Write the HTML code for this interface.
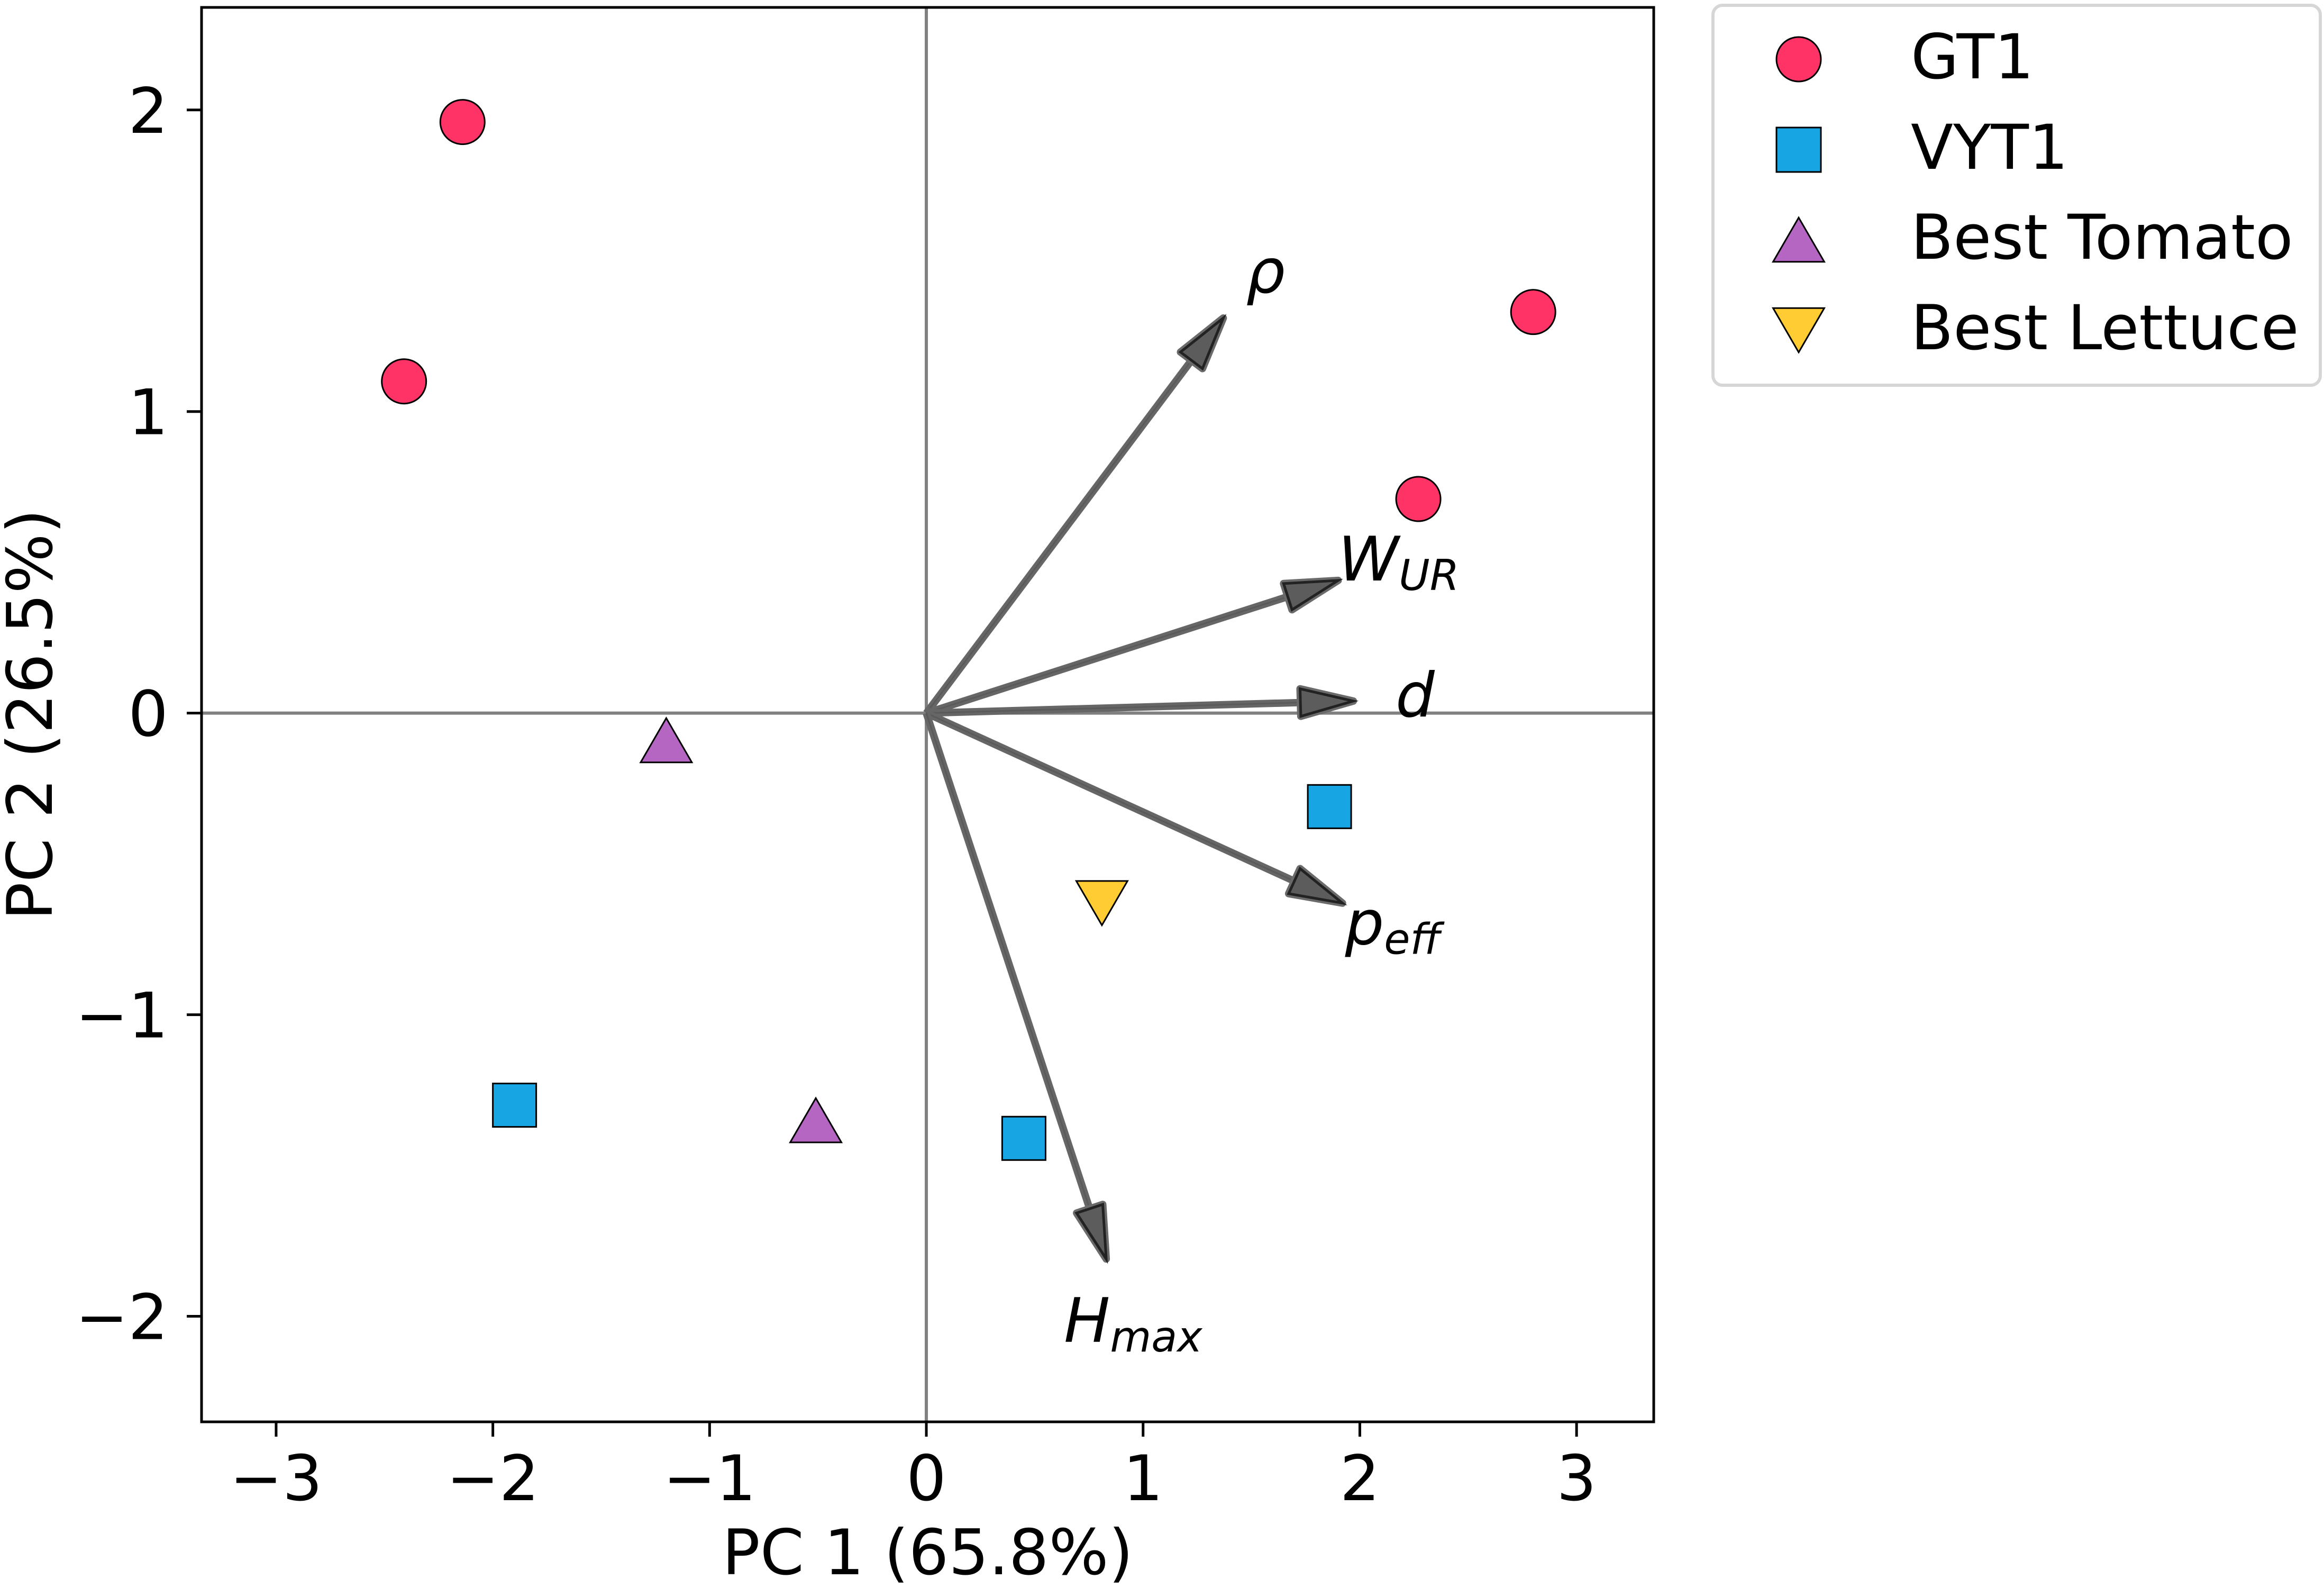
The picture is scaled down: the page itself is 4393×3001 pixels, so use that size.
<!DOCTYPE html>
<html><head><meta charset="utf-8"><style>
html,body{margin:0;padding:0;background:#fff}
svg{display:block}
text{font-family:"DejaVu Sans","Liberation Sans",sans-serif;fill:#000}
</style></head><body>
<svg id="chart" width="4393" height="3001" viewBox="0 0 4393 3001" xmlns="http://www.w3.org/2000/svg">
<g id="plot"></g>
</svg>
<script>
const xTicks=[-3,-2,-1,0,1,2,3];
const yTicks=[-2,-1,0,1,2];
const gt1X=[-2.14,-2.41,2.80,2.27];
const gt1Y=[1.96,1.10,1.33,0.71];
const vyt1X=[1.86,-1.90,0.45];
const vyt1Y=[-0.31,-1.30,-1.41];
const tomatoX=[-1.20,-0.51];
const tomatoY=[-0.09,-1.35];
const lettuceX=[0.81];
const lettuceY=[-0.63];
const loadNames=["rho","wur","d","peff","hmax"];
const loadX=[1.37,1.90,1.97,1.92,0.83];
const loadY=[1.31,0.44,0.04,-0.63,-1.81];

const L=381,R=3126,T=14,B=2687;
const X0=-3.344,X1=3.356,Y0=-2.35,Y1=2.34;
const sx=v=>L+(v-X0)/(X1-X0)*(R-L);
const sy=v=>B-(v-Y0)/(Y1-Y0)*(B-T);
const NS="http://www.w3.org/2000/svg";
const svg=document.getElementById('chart');
const g=document.getElementById('plot');
function mk(tag,attrs,parent){const e=document.createElementNS(NS,tag);for(const k in attrs)e.setAttribute(k,attrs[k]);(parent||g).appendChild(e);return e;}

let e=mk('line',{x1:L,x2:R,y1:sy(0),y2:sy(0),stroke:'#808080','stroke-width':6});


e=mk('line',{x1:sx(0),x2:sx(0),y1:T,y2:B,stroke:'#808080','stroke-width':6});



function circle(cx,cy,r,col,name,parent){const c=mk('circle',{cx:cx,cy:cy,r:r,fill:col,stroke:'#000','stroke-width':3},parent);}
function square(cx,cy,s,col,name,parent){const c=mk('rect',{x:cx-s/2,y:cy-s/2,width:s,height:s,fill:col,stroke:'#000','stroke-width':3},parent);}
function tri(cx,cy,s,up,col,name,parent){const h=s*0.95,w=s*0.55;const p=up?`${cx},${cy-h/2} ${cx+w},${cy+h/2} ${cx-w},${cy+h/2}`:`${cx},${cy+h/2} ${cx+w},${cy-h/2} ${cx-w},${cy-h/2}`;const c=mk('polygon',{points:p,fill:col,stroke:'#000','stroke-width':3},parent);}

const RED='#ff3366',BLUE='#17a6e3',PURP='#b565c2',YEL='#ffcc33';
gt1X.forEach((x,i)=>circle(sx(x),sy(gt1Y[i]),42,RED,'gt1-point'));
vyt1X.forEach((x,i)=>square(sx(x),sy(vyt1Y[i]),82,BLUE,'vyt1-point'));
tomatoX.forEach((x,i)=>tri(sx(x),sy(tomatoY[i]),88,true,PURP,'best-tomato-point'));
lettuceX.forEach((x,i)=>tri(sx(x),sy(lettuceY[i]),88,false,YEL,'best-lettuce-point'));

const labelDefs={rho:['ρ',''],wur:['W','UR'],d:['d',''],peff:['p','eff'],hmax:['H','max']};
const labelOff={rho:[43,-48],wur:[0,0],d:[80,29],peff:[5,78],hmax:[-80,157]};
loadNames.forEach((n,i)=>{
  const x0=sx(0),y0=sy(0),x1=sx(loadX[i]),y1=sy(loadY[i]);
  const dx=x1-x0,dy=y1-y0,len=Math.hypot(dx,dy),ux=dx/len,uy=dy/len;
  const hl=100,hw=26;
  const bx=x1-ux*hl,by=y1-uy*hl;
  const grp=mk('g',{});
  
  
  mk('line',{x1:x0,y1:y0,x2:bx+ux*4,y2:by+uy*4,stroke:'#666','stroke-width':14},grp);
  mk('line',{x1:x0,y1:y0,x2:bx,y2:by,stroke:'#5a5a5a','stroke-width':3},grp);
  const pts=`${x1},${y1} ${bx-uy*hw},${by+ux*hw} ${bx+uy*hw},${by-ux*hw}`;
  mk('polygon',{points:pts,fill:'#5c5c5c',stroke:'#6a6a6a','stroke-width':14,'stroke-linejoin':'round'},grp);
  mk('polygon',{points:pts,fill:'#5c5c5c',stroke:'#222','stroke-width':5,'stroke-linejoin':'miter'},grp);
  const [m,s]=labelDefs[n];const o=labelOff[n];
  const t=mk('text',{x:x1+o[0],y:y1+o[1],'font-size':116,'font-style':'italic','text-anchor':'start'});
  
  
  t.appendChild(document.createTextNode(m));
  if(s){const ts=document.createElementNS(NS,'tspan');ts.setAttribute('font-size',80);ts.setAttribute('dy',18);ts.textContent=s;t.appendChild(ts);}
});

e=mk('rect',{x:L,y:T,width:R-L,height:B-T,fill:'none',stroke:'#000','stroke-width':5});



xTicks.forEach(v=>{
  const x=sx(v);
  let l=mk('line',{x1:x,x2:x,y1:B,y2:B+28,stroke:'#000','stroke-width':5});
  
  
  let t=mk('text',{x:x,y:2835,'font-size':119,'text-anchor':'middle'});
  
  
  t.textContent=(v<0?'−':'')+Math.abs(v);
});
yTicks.forEach(v=>{
  const y=sy(v);
  let l=mk('line',{x1:L-28,x2:L,y1:y,y2:y,stroke:'#000','stroke-width':5});
  
  
  let t=mk('text',{x:318,y:y+43,'font-size':119,'text-anchor':'end'});
  
  
  t.textContent=(v<0?'−':'')+Math.abs(v);
});
e=mk('text',{x:(L+R)/2,y:2975,'font-size':119,'text-anchor':'middle'});


e.textContent='PC 1 (65.8%)';
e=mk('text',{x:0,y:0,'font-size':119,'text-anchor':'middle',transform:`translate(98,${(T+B)/2}) rotate(-90)`});


e.textContent='PC 2 (26.5%)';

const lg=mk('g',{},svg);


mk('rect',{x:3238,y:10,width:1148,height:718,rx:18,fill:'#fff',stroke:'#d6d6d6','stroke-width':6},lg);
const legNames=['GT1','VYT1','Best Tomato','Best Lettuce'];
const legY=[112,283,453,624];
circle(3400,legY[0],42,RED,'legend-marker-gt1',lg);
square(3400,legY[1],84,BLUE,'legend-marker-vyt1',lg);
tri(3400,legY[2],88,true,PURP,'legend-marker-best-tomato',lg);
tri(3400,legY[3],88,false,YEL,'legend-marker-best-lettuce',lg);
legNames.forEach((n,i)=>{
  const t=mk('text',{x:3612,y:legY[i]+36,'font-size':117},lg);
  
  
  t.textContent=n;
});
</script>
</body></html>
